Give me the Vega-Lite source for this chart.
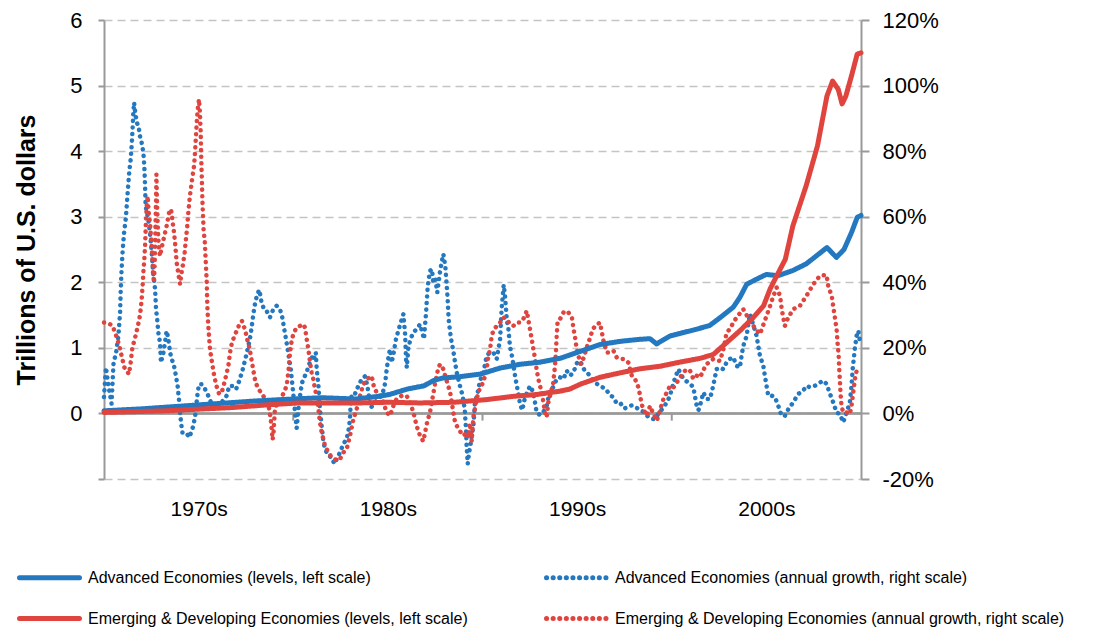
{
  "$schema": "https://vega.github.io/schema/vega-lite/v6.json",
  "width": 757,
  "height": 459,
  "autosize": {"type": "none"},
  "padding": {"left": 104, "top": 20, "right": 247, "bottom": 149},
  "background": "white",
  "config": {
    "view": {"stroke": null},
    "font": "Liberation Sans",
    "axis": {"labelColor": "#000000", "titleColor": "#000000", "labelFont": "Liberation Sans", "titleFont": "Liberation Sans"},
    "legend": {"labelFont": "Liberation Sans", "labelColor": "#000000"}
  },
  "datasets": {
    "levels": [
      {"t":1970,"s":"A1","v":0.04},{"t":1972,"s":"A1","v":0.07},{"t":1974,"s":"A1","v":0.11},{"t":1976,"s":"A1","v":0.15},{"t":1978,"s":"A1","v":0.19},{"t":1980,"s":"A1","v":0.22},{"t":1981.5,"s":"A1","v":0.24},{"t":1983.3,"s":"A1","v":0.22},{"t":1984.5,"s":"A1","v":0.26},{"t":1985.1,"s":"A1","v":0.29},{"t":1986,"s":"A1","v":0.37},{"t":1986.9,"s":"A1","v":0.42},{"t":1987.4,"s":"A1","v":0.5},{"t":1987.9,"s":"A1","v":0.54},{"t":1988.8,"s":"A1","v":0.56},{"t":1989.9,"s":"A1","v":0.6},{"t":1990.9,"s":"A1","v":0.69},{"t":1992,"s":"A1","v":0.75},{"t":1993,"s":"A1","v":0.78},{"t":1994.1,"s":"A1","v":0.84},{"t":1995.2,"s":"A1","v":0.95},{"t":1996.2,"s":"A1","v":1.05},{"t":1997.3,"s":"A1","v":1.1},{"t":1998.3,"s":"A1","v":1.13},{"t":1998.85,"s":"A1","v":1.14},{"t":1999.2,"s":"A1","v":1.06},{"t":1999.9,"s":"A1","v":1.18},{"t":2001,"s":"A1","v":1.26},{"t":2002,"s":"A1","v":1.34},{"t":2002.55,"s":"A1","v":1.46},{"t":2003.25,"s":"A1","v":1.62},{"t":2003.6,"s":"A1","v":1.77},{"t":2003.96,"s":"A1","v":1.97},{"t":2004.5,"s":"A1","v":2.05},{"t":2005,"s":"A1","v":2.12},{"t":2005.6,"s":"A1","v":2.1},{"t":2006.4,"s":"A1","v":2.18},{"t":2007.1,"s":"A1","v":2.28},{"t":2007.5,"s":"A1","v":2.37},{"t":2008.2,"s":"A1","v":2.53},{"t":2008.7,"s":"A1","v":2.38},{"t":2009.1,"s":"A1","v":2.5},{"t":2009.5,"s":"A1","v":2.76},{"t":2009.8,"s":"A1","v":2.99},{"t":2010,"s":"A1","v":3.02},
      {"t":1970,"s":"E1","v":0.015},{"t":1973.3,"s":"E1","v":0.04},{"t":1975,"s":"E1","v":0.065},{"t":1976.8,"s":"E1","v":0.09},{"t":1978.6,"s":"E1","v":0.13},{"t":1980.3,"s":"E1","v":0.16},{"t":1982,"s":"E1","v":0.16},{"t":1983.5,"s":"E1","v":0.16},{"t":1985,"s":"E1","v":0.17},{"t":1986.7,"s":"E1","v":0.16},{"t":1988.5,"s":"E1","v":0.17},{"t":1990.2,"s":"E1","v":0.21},{"t":1991.6,"s":"E1","v":0.26},{"t":1992.9,"s":"E1","v":0.29},{"t":1994.1,"s":"E1","v":0.34},{"t":1994.6,"s":"E1","v":0.37},{"t":1995.2,"s":"E1","v":0.45},{"t":1996.2,"s":"E1","v":0.55},{"t":1997.3,"s":"E1","v":0.62},{"t":1998.3,"s":"E1","v":0.68},{"t":1999.4,"s":"E1","v":0.72},{"t":2000.4,"s":"E1","v":0.78},{"t":2001.5,"s":"E1","v":0.84},{"t":2002.2,"s":"E1","v":0.9},{"t":2002.9,"s":"E1","v":1.08},{"t":2003.6,"s":"E1","v":1.26},{"t":2004.3,"s":"E1","v":1.46},{"t":2004.85,"s":"E1","v":1.64},{"t":2005.2,"s":"E1","v":1.9},{"t":2005.55,"s":"E1","v":2.1},{"t":2006,"s":"E1","v":2.35},{"t":2006.4,"s":"E1","v":2.86},{"t":2007.1,"s":"E1","v":3.47},{"t":2007.7,"s":"E1","v":4.08},{"t":2008.2,"s":"E1","v":4.84},{"t":2008.5,"s":"E1","v":5.07},{"t":2008.8,"s":"E1","v":4.94},{"t":2009,"s":"E1","v":4.72},{"t":2009.2,"s":"E1","v":4.84},{"t":2009.5,"s":"E1","v":5.15},{"t":2009.8,"s":"E1","v":5.48},{"t":2010,"s":"E1","v":5.5}
    ],
    "growth": [
      {"t":1970.0,"s":"A2","g":5},{"t":1970.1,"s":"A2","g":14},{"t":1970.25,"s":"A2","g":8},{"t":1970.4,"s":"A2","g":3},{"t":1970.5,"s":"A2","g":15},{"t":1970.65,"s":"A2","g":19},{"t":1970.76,"s":"A2","g":23.7},{"t":1970.85,"s":"A2","g":30.8},{"t":1970.88,"s":"A2","g":36.9},{"t":1970.93,"s":"A2","g":44},{"t":1970.99,"s":"A2","g":50},{"t":1971.06,"s":"A2","g":55},{"t":1971.16,"s":"A2","g":60},{"t":1971.25,"s":"A2","g":67.4},{"t":1971.34,"s":"A2","g":74},{"t":1971.41,"s":"A2","g":77.5},{"t":1971.46,"s":"A2","g":81.6},{"t":1971.5,"s":"A2","g":85.6},{"t":1971.55,"s":"A2","g":91.7},{"t":1971.59,"s":"A2","g":94.8},{"t":1971.64,"s":"A2","g":92.3},{"t":1971.73,"s":"A2","g":88.7},{"t":1971.82,"s":"A2","g":87.7},{"t":1971.9,"s":"A2","g":84.6},{"t":1971.99,"s":"A2","g":82.6},{"t":1972.08,"s":"A2","g":79.6},{"t":1972.13,"s":"A2","g":75.5},{"t":1972.17,"s":"A2","g":69.4},{"t":1972.2,"s":"A2","g":63.3},{"t":1972.34,"s":"A2","g":59.2},{"t":1972.43,"s":"A2","g":55.2},{"t":1972.52,"s":"A2","g":49.1},{"t":1972.61,"s":"A2","g":42},{"t":1972.7,"s":"A2","g":37.9},{"t":1972.75,"s":"A2","g":31.8},{"t":1972.82,"s":"A2","g":28.2},{"t":1972.87,"s":"A2","g":24.7},{"t":1972.96,"s":"A2","g":21.6},{"t":1973.01,"s":"A2","g":15.5},{"t":1973.14,"s":"A2","g":18.6},{"t":1973.22,"s":"A2","g":21.6},{"t":1973.31,"s":"A2","g":25.2},{"t":1973.4,"s":"A2","g":22.7},{"t":1973.49,"s":"A2","g":18.6},{"t":1973.58,"s":"A2","g":16.6},{"t":1973.7,"s":"A2","g":14.5},{"t":1973.8,"s":"A2","g":11.5},{"t":1973.89,"s":"A2","g":8.4},{"t":1973.96,"s":"A2","g":4.4},{"t":1974.02,"s":"A2","g":0.3},{"t":1974.07,"s":"A2","g":-2.7},{"t":1974.14,"s":"A2","g":-5.8},{"t":1974.33,"s":"A2","g":-5.8},{"t":1974.51,"s":"A2","g":-7.3},{"t":1974.69,"s":"A2","g":-4.3},{"t":1974.81,"s":"A2","g":-1.2},{"t":1974.93,"s":"A2","g":5.4},{"t":1975.02,"s":"A2","g":8.9},{"t":1975.16,"s":"A2","g":8.9},{"t":1975.34,"s":"A2","g":7.4},{"t":1975.51,"s":"A2","g":5.4},{"t":1975.69,"s":"A2","g":2.8},{"t":1975.87,"s":"A2","g":1.3},{"t":1976.04,"s":"A2","g":2.3},{"t":1976.22,"s":"A2","g":3.4},{"t":1976.48,"s":"A2","g":5.4},{"t":1976.62,"s":"A2","g":8.4},{"t":1976.8,"s":"A2","g":8.4},{"t":1976.98,"s":"A2","g":7.4},{"t":1977.15,"s":"A2","g":10},{"t":1977.31,"s":"A2","g":13},{"t":1977.47,"s":"A2","g":16.6},{"t":1977.61,"s":"A2","g":20.1},{"t":1977.71,"s":"A2","g":22.7},{"t":1977.8,"s":"A2","g":26.2},{"t":1977.89,"s":"A2","g":30.3},{"t":1977.99,"s":"A2","g":33.8},{"t":1978.1,"s":"A2","g":36.4},{"t":1978.21,"s":"A2","g":37.7},{"t":1978.31,"s":"A2","g":34.3},{"t":1978.45,"s":"A2","g":31.8},{"t":1978.59,"s":"A2","g":31.3},{"t":1978.77,"s":"A2","g":29.3},{"t":1978.95,"s":"A2","g":31.8},{"t":1979.12,"s":"A2","g":32.8},{"t":1979.3,"s":"A2","g":31.8},{"t":1979.42,"s":"A2","g":29.3},{"t":1979.51,"s":"A2","g":26.2},{"t":1979.6,"s":"A2","g":23.2},{"t":1979.69,"s":"A2","g":20.1},{"t":1979.77,"s":"A2","g":17.1},{"t":1979.86,"s":"A2","g":14},{"t":1979.95,"s":"A2","g":9},{"t":1980.02,"s":"A2","g":5},{"t":1980.1,"s":"A2","g":0},{"t":1980.18,"s":"A2","g":-4.5},{"t":1980.3,"s":"A2","g":3},{"t":1980.45,"s":"A2","g":9},{"t":1980.53,"s":"A2","g":10.5},{"t":1980.71,"s":"A2","g":12.5},{"t":1980.8,"s":"A2","g":14.5},{"t":1980.92,"s":"A2","g":16},{"t":1981.03,"s":"A2","g":17.6},{"t":1981.1,"s":"A2","g":16.6},{"t":1981.19,"s":"A2","g":18.6},{"t":1981.24,"s":"A2","g":13.5},{"t":1981.33,"s":"A2","g":8.4},{"t":1981.41,"s":"A2","g":1.3},{"t":1981.5,"s":"A2","g":-3.8},{"t":1981.59,"s":"A2","g":-8.3},{"t":1981.68,"s":"A2","g":-10.9},{"t":1981.86,"s":"A2","g":-12.9},{"t":1982.03,"s":"A2","g":-13.4},{"t":1982.17,"s":"A2","g":-15.4},{"t":1982.3,"s":"A2","g":-13.9},{"t":1982.47,"s":"A2","g":-11.9},{"t":1982.65,"s":"A2","g":-9.3},{"t":1982.82,"s":"A2","g":-7.8},{"t":1982.95,"s":"A2","g":-4.3},{"t":1983.0,"s":"A2","g":-1.2},{"t":1983.03,"s":"A2","g":2.3},{"t":1983.09,"s":"A2","g":5.9},{"t":1983.26,"s":"A2","g":5.9},{"t":1983.44,"s":"A2","g":8.4},{"t":1983.62,"s":"A2","g":10.5},{"t":1983.79,"s":"A2","g":11.3},{"t":1983.92,"s":"A2","g":8.4},{"t":1984.02,"s":"A2","g":4.4},{"t":1984.11,"s":"A2","g":1.8},{"t":1984.32,"s":"A2","g":3.4},{"t":1984.58,"s":"A2","g":4.9},{"t":1984.8,"s":"A2","g":7.4},{"t":1984.88,"s":"A2","g":10.5},{"t":1984.95,"s":"A2","g":14},{"t":1985.03,"s":"A2","g":17.1},{"t":1985.11,"s":"A2","g":19.6},{"t":1985.2,"s":"A2","g":15.5},{"t":1985.31,"s":"A2","g":18.6},{"t":1985.43,"s":"A2","g":22.7},{"t":1985.55,"s":"A2","g":25.2},{"t":1985.68,"s":"A2","g":27.7},{"t":1985.82,"s":"A2","g":30.3},{"t":1985.91,"s":"A2","g":24.2},{"t":1985.96,"s":"A2","g":16.6},{"t":1986.0,"s":"A2","g":14},{"t":1986.08,"s":"A2","g":20.1},{"t":1986.2,"s":"A2","g":22.7},{"t":1986.35,"s":"A2","g":24.7},{"t":1986.52,"s":"A2","g":25.7},{"t":1986.7,"s":"A2","g":27.2},{"t":1986.84,"s":"A2","g":24.2},{"t":1986.91,"s":"A2","g":22.7},{"t":1986.96,"s":"A2","g":26.7},{"t":1987.02,"s":"A2","g":30.8},{"t":1987.05,"s":"A2","g":33.8},{"t":1987.09,"s":"A2","g":37.4},{"t":1987.14,"s":"A2","g":40.4},{"t":1987.23,"s":"A2","g":43.5},{"t":1987.33,"s":"A2","g":44},{"t":1987.4,"s":"A2","g":39.9},{"t":1987.51,"s":"A2","g":40.9},{"t":1987.61,"s":"A2","g":36.9},{"t":1987.68,"s":"A2","g":39.9},{"t":1987.75,"s":"A2","g":43},{"t":1987.84,"s":"A2","g":46},{"t":1987.93,"s":"A2","g":48.6},{"t":1987.98,"s":"A2","g":47},{"t":1988.04,"s":"A2","g":44.5},{"t":1988.11,"s":"A2","g":38.9},{"t":1988.16,"s":"A2","g":34.8},{"t":1988.21,"s":"A2","g":28.8},{"t":1988.28,"s":"A2","g":25.2},{"t":1988.37,"s":"A2","g":21.6},{"t":1988.46,"s":"A2","g":19.1},{"t":1988.55,"s":"A2","g":15.5},{"t":1988.64,"s":"A2","g":12.5},{"t":1988.81,"s":"A2","g":8.4},{"t":1988.95,"s":"A2","g":5.4},{"t":1989.06,"s":"A2","g":1.3},{"t":1989.13,"s":"A2","g":-4.8},{"t":1989.16,"s":"A2","g":-9.9},{"t":1989.22,"s":"A2","g":-15.4},{"t":1989.29,"s":"A2","g":-11.9},{"t":1989.36,"s":"A2","g":-9.9},{"t":1989.43,"s":"A2","g":-6.8},{"t":1989.52,"s":"A2","g":-3.8},{"t":1989.6,"s":"A2","g":3.4},{"t":1989.73,"s":"A2","g":5.9},{"t":1989.87,"s":"A2","g":10},{"t":1990.05,"s":"A2","g":12.5},{"t":1990.22,"s":"A2","g":17.6},{"t":1990.4,"s":"A2","g":18.6},{"t":1990.57,"s":"A2","g":18.6},{"t":1990.75,"s":"A2","g":16.6},{"t":1990.93,"s":"A2","g":22.7},{"t":1991.01,"s":"A2","g":31.8},{"t":1991.12,"s":"A2","g":39.2},{"t":1991.19,"s":"A2","g":35.9},{"t":1991.28,"s":"A2","g":28.8},{"t":1991.37,"s":"A2","g":25.7},{"t":1991.45,"s":"A2","g":20.5},{"t":1991.54,"s":"A2","g":18},{"t":1991.63,"s":"A2","g":15},{"t":1991.72,"s":"A2","g":11.5},{"t":1991.81,"s":"A2","g":8.5},{"t":1991.9,"s":"A2","g":6},{"t":1991.98,"s":"A2","g":3},{"t":1992.1,"s":"A2","g":1},{"t":1992.25,"s":"A2","g":5},{"t":1992.51,"s":"A2","g":8.4},{"t":1992.69,"s":"A2","g":6.4},{"t":1992.86,"s":"A2","g":0.3},{"t":1993.04,"s":"A2","g":-0.5},{"t":1993.22,"s":"A2","g":0.5},{"t":1993.39,"s":"A2","g":2.3},{"t":1993.57,"s":"A2","g":7.4},{"t":1993.74,"s":"A2","g":8},{"t":1993.92,"s":"A2","g":10.5},{"t":1994.1,"s":"A2","g":11},{"t":1994.28,"s":"A2","g":10.5},{"t":1994.45,"s":"A2","g":13},{"t":1994.63,"s":"A2","g":11.5},{"t":1994.8,"s":"A2","g":12.5},{"t":1995.0,"s":"A2","g":15.5},{"t":1995.16,"s":"A2","g":16},{"t":1995.4,"s":"A2","g":13},{"t":1995.6,"s":"A2","g":12},{"t":1995.86,"s":"A2","g":10},{"t":1996.05,"s":"A2","g":9},{"t":1996.2,"s":"A2","g":8.4},{"t":1996.5,"s":"A2","g":7.5},{"t":1996.75,"s":"A2","g":5.5},{"t":1996.9,"s":"A2","g":5},{"t":1997.1,"s":"A2","g":3},{"t":1997.3,"s":"A2","g":3},{"t":1997.5,"s":"A2","g":1.5},{"t":1997.7,"s":"A2","g":2},{"t":1997.9,"s":"A2","g":2.5},{"t":1998.2,"s":"A2","g":1.5},{"t":1998.5,"s":"A2","g":0.5},{"t":1998.75,"s":"A2","g":-1},{"t":1998.95,"s":"A2","g":-1.7},{"t":1999.12,"s":"A2","g":-1.7},{"t":1999.3,"s":"A2","g":0},{"t":1999.56,"s":"A2","g":1.8},{"t":1999.75,"s":"A2","g":3.5},{"t":1999.91,"s":"A2","g":5.4},{"t":2000.09,"s":"A2","g":9.4},{"t":2000.35,"s":"A2","g":13.5},{"t":2000.62,"s":"A2","g":10.5},{"t":2000.97,"s":"A2","g":9},{"t":2001.14,"s":"A2","g":8},{"t":2001.32,"s":"A2","g":2.3},{"t":2001.41,"s":"A2","g":1},{"t":2001.5,"s":"A2","g":2.5},{"t":2001.67,"s":"A2","g":6.4},{"t":2001.84,"s":"A2","g":4.4},{"t":2002.02,"s":"A2","g":4.4},{"t":2002.19,"s":"A2","g":8.4},{"t":2002.37,"s":"A2","g":13.5},{"t":2002.55,"s":"A2","g":14},{"t":2002.72,"s":"A2","g":13.5},{"t":2002.9,"s":"A2","g":15.6},{"t":2003.07,"s":"A2","g":16.6},{"t":2003.25,"s":"A2","g":17.1},{"t":2003.43,"s":"A2","g":14.5},{"t":2003.6,"s":"A2","g":14},{"t":2003.69,"s":"A2","g":17.6},{"t":2003.78,"s":"A2","g":20.6},{"t":2003.96,"s":"A2","g":23.7},{"t":2004.04,"s":"A2","g":27},{"t":2004.13,"s":"A2","g":30.3},{"t":2004.31,"s":"A2","g":27},{"t":2004.48,"s":"A2","g":23.7},{"t":2004.57,"s":"A2","g":20.6},{"t":2004.66,"s":"A2","g":17.6},{"t":2004.84,"s":"A2","g":14.5},{"t":2004.92,"s":"A2","g":11.5},{"t":2005.01,"s":"A2","g":8.4},{"t":2005.1,"s":"A2","g":5.4},{"t":2005.28,"s":"A2","g":5.4},{"t":2005.45,"s":"A2","g":5},{"t":2005.63,"s":"A2","g":2.3},{"t":2005.8,"s":"A2","g":-0.7},{"t":2005.98,"s":"A2","g":-0.7},{"t":2006.16,"s":"A2","g":1.3},{"t":2006.42,"s":"A2","g":3.4},{"t":2006.68,"s":"A2","g":5.9},{"t":2006.95,"s":"A2","g":7},{"t":2007.12,"s":"A2","g":8.4},{"t":2007.3,"s":"A2","g":8},{"t":2007.56,"s":"A2","g":8.4},{"t":2007.83,"s":"A2","g":9.4},{"t":2008.0,"s":"A2","g":10},{"t":2008.18,"s":"A2","g":9},{"t":2008.36,"s":"A2","g":6},{"t":2008.53,"s":"A2","g":3.4},{"t":2008.71,"s":"A2","g":0.3},{"t":2008.89,"s":"A2","g":-0.2},{"t":2009.06,"s":"A2","g":-2.7},{"t":2009.24,"s":"A2","g":0.3},{"t":2009.41,"s":"A2","g":3.4},{"t":2009.5,"s":"A2","g":8.4},{"t":2009.56,"s":"A2","g":13.5},{"t":2009.68,"s":"A2","g":20.1},{"t":2009.77,"s":"A2","g":23.7},{"t":2009.86,"s":"A2","g":25.2},{"t":2009.94,"s":"A2","g":22},
      {"t":1970.0,"s":"E2","g":27.7},{"t":1970.15,"s":"E2","g":27.7},{"t":1970.32,"s":"E2","g":27.2},{"t":1970.46,"s":"E2","g":26.7},{"t":1970.58,"s":"E2","g":24.7},{"t":1970.71,"s":"E2","g":22.7},{"t":1970.85,"s":"E2","g":19.6},{"t":1970.97,"s":"E2","g":16.6},{"t":1971.08,"s":"E2","g":14},{"t":1971.2,"s":"E2","g":13},{"t":1971.32,"s":"E2","g":12},{"t":1971.41,"s":"E2","g":15.5},{"t":1971.5,"s":"E2","g":20.1},{"t":1971.6,"s":"E2","g":22.1},{"t":1971.73,"s":"E2","g":25.2},{"t":1971.87,"s":"E2","g":28.8},{"t":1971.94,"s":"E2","g":31.8},{"t":1971.99,"s":"E2","g":34.8},{"t":1972.04,"s":"E2","g":38.9},{"t":1972.08,"s":"E2","g":43},{"t":1972.13,"s":"E2","g":47},{"t":1972.17,"s":"E2","g":51.1},{"t":1972.22,"s":"E2","g":59.2},{"t":1972.26,"s":"E2","g":63.3},{"t":1972.31,"s":"E2","g":66.3},{"t":1972.36,"s":"E2","g":61.3},{"t":1972.43,"s":"E2","g":58.2},{"t":1972.48,"s":"E2","g":54.2},{"t":1972.54,"s":"E2","g":49.1},{"t":1972.59,"s":"E2","g":43},{"t":1972.64,"s":"E2","g":39.9},{"t":1972.68,"s":"E2","g":46},{"t":1972.71,"s":"E2","g":54.2},{"t":1972.75,"s":"E2","g":65.3},{"t":1972.77,"s":"E2","g":72.9},{"t":1972.8,"s":"E2","g":64.3},{"t":1972.84,"s":"E2","g":57.2},{"t":1972.89,"s":"E2","g":51.1},{"t":1972.96,"s":"E2","g":48},{"t":1973.07,"s":"E2","g":51.1},{"t":1973.19,"s":"E2","g":54.2},{"t":1973.31,"s":"E2","g":57.2},{"t":1973.44,"s":"E2","g":61.3},{"t":1973.54,"s":"E2","g":62.3},{"t":1973.63,"s":"E2","g":58.2},{"t":1973.7,"s":"E2","g":55.2},{"t":1973.77,"s":"E2","g":51.1},{"t":1973.84,"s":"E2","g":46},{"t":1973.93,"s":"E2","g":42.5},{"t":1974.02,"s":"E2","g":39.4},{"t":1974.1,"s":"E2","g":43},{"t":1974.19,"s":"E2","g":46},{"t":1974.26,"s":"E2","g":49.1},{"t":1974.33,"s":"E2","g":53.1},{"t":1974.4,"s":"E2","g":57.2},{"t":1974.47,"s":"E2","g":62.3},{"t":1974.54,"s":"E2","g":66.3},{"t":1974.61,"s":"E2","g":69.4},{"t":1974.68,"s":"E2","g":72.4},{"t":1974.76,"s":"E2","g":75.5},{"t":1974.81,"s":"E2","g":79.6},{"t":1974.86,"s":"E2","g":84.6},{"t":1974.91,"s":"E2","g":89.7},{"t":1974.97,"s":"E2","g":93.8},{"t":1975.02,"s":"E2","g":95.8},{"t":1975.07,"s":"E2","g":91.7},{"t":1975.11,"s":"E2","g":85.6},{"t":1975.14,"s":"E2","g":77.5},{"t":1975.18,"s":"E2","g":69.4},{"t":1975.21,"s":"E2","g":63.3},{"t":1975.27,"s":"E2","g":55.2},{"t":1975.32,"s":"E2","g":53.1},{"t":1975.37,"s":"E2","g":47},{"t":1975.43,"s":"E2","g":39.9},{"t":1975.46,"s":"E2","g":32.8},{"t":1975.51,"s":"E2","g":26.7},{"t":1975.6,"s":"E2","g":19.6},{"t":1975.71,"s":"E2","g":15.5},{"t":1975.79,"s":"E2","g":12.5},{"t":1975.88,"s":"E2","g":10},{"t":1975.99,"s":"E2","g":7.4},{"t":1976.09,"s":"E2","g":5.9},{"t":1976.22,"s":"E2","g":6.4},{"t":1976.34,"s":"E2","g":8.9},{"t":1976.45,"s":"E2","g":11.5},{"t":1976.57,"s":"E2","g":14.5},{"t":1976.66,"s":"E2","g":18.6},{"t":1976.76,"s":"E2","g":21.6},{"t":1976.9,"s":"E2","g":23.7},{"t":1977.05,"s":"E2","g":25.7},{"t":1977.19,"s":"E2","g":27.7},{"t":1977.29,"s":"E2","g":28.2},{"t":1977.38,"s":"E2","g":26.7},{"t":1977.47,"s":"E2","g":25.2},{"t":1977.56,"s":"E2","g":22.7},{"t":1977.64,"s":"E2","g":21.1},{"t":1977.73,"s":"E2","g":18.6},{"t":1977.82,"s":"E2","g":15.5},{"t":1977.91,"s":"E2","g":12.5},{"t":1978.01,"s":"E2","g":9.4},{"t":1978.17,"s":"E2","g":7.4},{"t":1978.35,"s":"E2","g":5.9},{"t":1978.52,"s":"E2","g":4.4},{"t":1978.7,"s":"E2","g":2.3},{"t":1978.81,"s":"E2","g":-1.7},{"t":1978.86,"s":"E2","g":-4.8},{"t":1978.91,"s":"E2","g":-8},{"t":1978.96,"s":"E2","g":-5.8},{"t":1979.03,"s":"E2","g":1.3},{"t":1979.16,"s":"E2","g":3.4},{"t":1979.33,"s":"E2","g":4.4},{"t":1979.51,"s":"E2","g":6.4},{"t":1979.65,"s":"E2","g":8.4},{"t":1979.74,"s":"E2","g":12.5},{"t":1979.83,"s":"E2","g":18.6},{"t":1979.93,"s":"E2","g":22.7},{"t":1980.04,"s":"E2","g":24.7},{"t":1980.18,"s":"E2","g":26.2},{"t":1980.36,"s":"E2","g":26.7},{"t":1980.53,"s":"E2","g":27.2},{"t":1980.62,"s":"E2","g":26.2},{"t":1980.71,"s":"E2","g":22.7},{"t":1980.8,"s":"E2","g":19.6},{"t":1980.89,"s":"E2","g":15.5},{"t":1980.97,"s":"E2","g":12.5},{"t":1981.06,"s":"E2","g":10.5},{"t":1981.15,"s":"E2","g":7.4},{"t":1981.24,"s":"E2","g":5.4},{"t":1981.33,"s":"E2","g":1.3},{"t":1981.41,"s":"E2","g":-2.7},{"t":1981.5,"s":"E2","g":-5.8},{"t":1981.59,"s":"E2","g":-7.8},{"t":1981.68,"s":"E2","g":-9.9},{"t":1981.86,"s":"E2","g":-11.9},{"t":1982.03,"s":"E2","g":-13.4},{"t":1982.3,"s":"E2","g":-14.4},{"t":1982.47,"s":"E2","g":-13.9},{"t":1982.65,"s":"E2","g":-11.9},{"t":1982.82,"s":"E2","g":-10.9},{"t":1983.0,"s":"E2","g":-6.8},{"t":1983.18,"s":"E2","g":-1.7},{"t":1983.35,"s":"E2","g":1.3},{"t":1983.53,"s":"E2","g":5.4},{"t":1983.7,"s":"E2","g":8.9},{"t":1983.88,"s":"E2","g":10},{"t":1984.06,"s":"E2","g":11.5},{"t":1984.18,"s":"E2","g":10.5},{"t":1984.27,"s":"E2","g":7.9},{"t":1984.41,"s":"E2","g":6.4},{"t":1984.58,"s":"E2","g":5.9},{"t":1984.76,"s":"E2","g":3.4},{"t":1984.94,"s":"E2","g":0.3},{"t":1985.11,"s":"E2","g":-0.7},{"t":1985.29,"s":"E2","g":2.3},{"t":1985.46,"s":"E2","g":4.4},{"t":1985.73,"s":"E2","g":5.4},{"t":1985.99,"s":"E2","g":5.4},{"t":1986.17,"s":"E2","g":3.4},{"t":1986.35,"s":"E2","g":0.3},{"t":1986.52,"s":"E2","g":-3.8},{"t":1986.7,"s":"E2","g":-6.8},{"t":1986.87,"s":"E2","g":-8.5},{"t":1986.96,"s":"E2","g":-6},{"t":1987.05,"s":"E2","g":-3.3},{"t":1987.23,"s":"E2","g":0.5},{"t":1987.4,"s":"E2","g":6},{"t":1987.49,"s":"E2","g":9},{"t":1987.58,"s":"E2","g":11.5},{"t":1987.67,"s":"E2","g":14},{"t":1987.76,"s":"E2","g":15},{"t":1987.93,"s":"E2","g":13.5},{"t":1988.11,"s":"E2","g":9.9},{"t":1988.29,"s":"E2","g":6.5},{"t":1988.46,"s":"E2","g":0.3},{"t":1988.55,"s":"E2","g":-2.7},{"t":1988.73,"s":"E2","g":-4.8},{"t":1988.99,"s":"E2","g":-6.8},{"t":1989.17,"s":"E2","g":-5.8},{"t":1989.25,"s":"E2","g":-7.3},{"t":1989.34,"s":"E2","g":-3},{"t":1989.43,"s":"E2","g":-8.5},{"t":1989.52,"s":"E2","g":-1},{"t":1989.69,"s":"E2","g":4.4},{"t":1989.87,"s":"E2","g":7.9},{"t":1990.05,"s":"E2","g":9.5},{"t":1990.13,"s":"E2","g":11.5},{"t":1990.22,"s":"E2","g":13.5},{"t":1990.31,"s":"E2","g":17.6},{"t":1990.4,"s":"E2","g":19.6},{"t":1990.49,"s":"E2","g":23.7},{"t":1990.57,"s":"E2","g":25.2},{"t":1990.75,"s":"E2","g":26.7},{"t":1990.93,"s":"E2","g":27.7},{"t":1991.1,"s":"E2","g":29.3},{"t":1991.28,"s":"E2","g":28.8},{"t":1991.45,"s":"E2","g":27.2},{"t":1991.63,"s":"E2","g":26.7},{"t":1991.81,"s":"E2","g":27.7},{"t":1991.98,"s":"E2","g":27.7},{"t":1992.16,"s":"E2","g":28.8},{"t":1992.34,"s":"E2","g":31.3},{"t":1992.51,"s":"E2","g":25.7},{"t":1992.6,"s":"E2","g":22.7},{"t":1992.69,"s":"E2","g":19.6},{"t":1992.78,"s":"E2","g":16.6},{"t":1992.86,"s":"E2","g":13.5},{"t":1992.95,"s":"E2","g":10.5},{"t":1993.04,"s":"E2","g":8.4},{"t":1993.13,"s":"E2","g":6.4},{"t":1993.22,"s":"E2","g":3.4},{"t":1993.3,"s":"E2","g":0.3},{"t":1993.39,"s":"E2","g":-1.2},{"t":1993.48,"s":"E2","g":3.4},{"t":1993.57,"s":"E2","g":5.4},{"t":1993.74,"s":"E2","g":9.4},{"t":1993.83,"s":"E2","g":14.5},{"t":1993.88,"s":"E2","g":18.6},{"t":1993.92,"s":"E2","g":23.7},{"t":1993.97,"s":"E2","g":28.2},{"t":1994.1,"s":"E2","g":28.8},{"t":1994.28,"s":"E2","g":30.8},{"t":1994.36,"s":"E2","g":31.3},{"t":1994.54,"s":"E2","g":30.8},{"t":1994.72,"s":"E2","g":29.3},{"t":1994.8,"s":"E2","g":26.2},{"t":1994.89,"s":"E2","g":23.2},{"t":1994.98,"s":"E2","g":19.6},{"t":1995.07,"s":"E2","g":17.6},{"t":1995.19,"s":"E2","g":15},{"t":1995.35,"s":"E2","g":17},{"t":1995.5,"s":"E2","g":20},{"t":1995.65,"s":"E2","g":22.5},{"t":1995.83,"s":"E2","g":25.7},{"t":1996.0,"s":"E2","g":27},{"t":1996.21,"s":"E2","g":27.7},{"t":1996.3,"s":"E2","g":25},{"t":1996.39,"s":"E2","g":22.2},{"t":1996.57,"s":"E2","g":18.6},{"t":1996.74,"s":"E2","g":18.6},{"t":1996.92,"s":"E2","g":19.1},{"t":1997.09,"s":"E2","g":17.1},{"t":1997.27,"s":"E2","g":16.6},{"t":1997.45,"s":"E2","g":16.6},{"t":1997.71,"s":"E2","g":15.5},{"t":1997.8,"s":"E2","g":13.5},{"t":1997.89,"s":"E2","g":11.5},{"t":1998.06,"s":"E2","g":10.5},{"t":1998.24,"s":"E2","g":7.9},{"t":1998.33,"s":"E2","g":5.4},{"t":1998.41,"s":"E2","g":2.8},{"t":1998.5,"s":"E2","g":1.3},{"t":1998.68,"s":"E2","g":-0.7},{"t":1998.77,"s":"E2","g":0.8},{"t":1998.85,"s":"E2","g":2.3},{"t":1999.03,"s":"E2","g":-0.2},{"t":1999.21,"s":"E2","g":-2.2},{"t":1999.3,"s":"E2","g":-0.7},{"t":1999.47,"s":"E2","g":2.8},{"t":1999.56,"s":"E2","g":4.4},{"t":1999.74,"s":"E2","g":6.4},{"t":1999.91,"s":"E2","g":8.4},{"t":2000.09,"s":"E2","g":7.9},{"t":2000.26,"s":"E2","g":9.4},{"t":2000.62,"s":"E2","g":12.5},{"t":2000.79,"s":"E2","g":13.5},{"t":2000.97,"s":"E2","g":13},{"t":2001.14,"s":"E2","g":10.5},{"t":2001.32,"s":"E2","g":11.5},{"t":2001.5,"s":"E2","g":11},{"t":2001.67,"s":"E2","g":13.2},{"t":2001.84,"s":"E2","g":15},{"t":2002.19,"s":"E2","g":16.6},{"t":2002.55,"s":"E2","g":16},{"t":2002.75,"s":"E2","g":20},{"t":2002.9,"s":"E2","g":24.7},{"t":2003.07,"s":"E2","g":25.7},{"t":2003.25,"s":"E2","g":27.7},{"t":2003.43,"s":"E2","g":29.3},{"t":2003.78,"s":"E2","g":31.8},{"t":2004.13,"s":"E2","g":28.2},{"t":2004.31,"s":"E2","g":26.7},{"t":2004.66,"s":"E2","g":24.2},{"t":2004.9,"s":"E2","g":28},{"t":2005.15,"s":"E2","g":32},{"t":2005.35,"s":"E2","g":35.5},{"t":2005.54,"s":"E2","g":38.4},{"t":2005.72,"s":"E2","g":35.9},{"t":2005.8,"s":"E2","g":32.3},{"t":2005.89,"s":"E2","g":29.3},{"t":2005.98,"s":"E2","g":26.7},{"t":2006.16,"s":"E2","g":29.3},{"t":2006.42,"s":"E2","g":31.8},{"t":2006.77,"s":"E2","g":32.8},{"t":2007.12,"s":"E2","g":35.9},{"t":2007.48,"s":"E2","g":39.4},{"t":2007.83,"s":"E2","g":42},{"t":2008.18,"s":"E2","g":42.2},{"t":2008.27,"s":"E2","g":38.8},{"t":2008.45,"s":"E2","g":35.9},{"t":2008.53,"s":"E2","g":32.8},{"t":2008.62,"s":"E2","g":29.3},{"t":2008.71,"s":"E2","g":25.7},{"t":2008.76,"s":"E2","g":21.6},{"t":2008.82,"s":"E2","g":17.6},{"t":2008.85,"s":"E2","g":13.5},{"t":2008.89,"s":"E2","g":9.4},{"t":2008.92,"s":"E2","g":5.9},{"t":2008.97,"s":"E2","g":2.3},{"t":2009.06,"s":"E2","g":0.3},{"t":2009.24,"s":"E2","g":0.3},{"t":2009.41,"s":"E2","g":-0.2},{"t":2009.5,"s":"E2","g":2.3},{"t":2009.59,"s":"E2","g":6.4},{"t":2009.68,"s":"E2","g":10.5},{"t":2009.77,"s":"E2","g":13},{"t":2009.94,"s":"E2","g":13.5}
    ],
    "decades": [{"t":1980},{"t":1990},{"t":2000}]
  },
  "layer": [
    {
      "data": {"name": "decades"},
      "layer": [
        {
          "mark": {"type": "rule", "color": "#999999", "strokeWidth": 2},
          "encoding": {
            "y": {"datum": 0, "type": "quantitative", "scale": {"domain": [-1, 6], "nice": false, "zero": false}, "axis": null}
          }
        },
        {
          "mark": {"type": "rule", "color": "#999999", "strokeWidth": 2},
          "encoding": {
            "x": {"field": "t", "type": "quantitative", "scale": {"domain": [1970, 2010], "nice": false, "zero": false},
              "axis": {"values": [1975, 1985, 1995, 2005], "labelExpr": "floor(datum.value/10)*10 + 's'", "ticks": false, "domain": false, "grid": false, "title": null, "labelFontSize": 21, "labelPadding": 19}},
            "y": {"datum": 0, "type": "quantitative", "scale": {"domain": [-1, 6], "nice": false, "zero": false}, "axis": null},
            "y2": {"datum": -0.11}
          }
        }
      ]
    },
    {
      "data": {"name": "growth"},
      "mark": {"type": "line", "strokeWidth": 4.5, "strokeCap": "round", "strokeJoin": "round"},
      "encoding": {
        "x": {"field": "t", "type": "quantitative", "scale": {"domain": [1970, 2010], "nice": false, "zero": false},
          "axis": {"values": [1975, 1985, 1995, 2005], "labelExpr": "floor(datum.value/10)*10 + 's'", "ticks": false, "domain": false, "grid": false, "title": null, "labelFontSize": 21, "labelPadding": 19}},
        "y": {"field": "g", "type": "quantitative", "scale": {"domain": [-20, 120], "nice": false, "zero": false},
          "axis": {"orient": "right", "values": [-20, 0, 20, 40, 60, 80, 100, 120], "labelExpr": "datum.value + '%'", "grid": false, "title": null, "domainColor": "#999999", "domainWidth": 2, "tickColor": "#999999", "tickWidth": 2, "tickSize": 8, "labelPadding": 13, "labelFontSize": 22}},
        "color": {"field": "s", "type": "nominal", "scale": {"domain": ["A1", "E1", "A2", "E2"], "range": ["#2378c0", "#e0443e", "#2378c0", "#e0443e"]},
          "legend": {"title": null, "orient": "none", "legendX": -87, "legendY": 545, "columns": 2, "columnPadding": 68, "rowPadding": 18, "symbolType": "M-1,0H5", "symbolSize": 400, "symbolStrokeWidth": 5, "labelFontSize": 16, "labelLimit": 700, "labelOffset": 46,
            "labelExpr": "datum.value == 'A1' ? 'Advanced Economies (levels, left scale)' : datum.value == 'A2' ? 'Advanced Economies (annual growth, right scale)' : datum.value == 'E1' ? 'Emerging & Developing Economies (levels, left scale)' : 'Emerging & Developing Economies (annual growth, right scale)'",
            "encode": {"symbols": {"update": {"strokeCap": {"value": "round"}}}}}},
        "strokeDash": {"field": "s", "type": "nominal", "scale": {"domain": ["A1", "E1", "A2", "E2"], "range": [[1, 0], [1, 0], [0.1, 6.5], [0.1, 6.5]]}}
      }
    },
    {
      "data": {"name": "levels"},
      "mark": {"type": "line", "strokeWidth": 5, "strokeCap": "round", "strokeJoin": "round"},
      "encoding": {
        "x": {"field": "t", "type": "quantitative", "scale": {"domain": [1970, 2010], "nice": false, "zero": false},
          "axis": {"values": [1975, 1985, 1995, 2005], "labelExpr": "floor(datum.value/10)*10 + 's'", "ticks": false, "domain": false, "grid": false, "title": null, "labelFontSize": 21, "labelPadding": 19}},
        "y": {"field": "v", "type": "quantitative", "scale": {"domain": [-1, 6], "nice": false, "zero": false},
          "axis": {"orient": "left", "values": [-1, 0, 1, 2, 3, 4, 5, 6], "labelExpr": "datum.value < 0 ? '' : datum.label", "grid": true, "gridDash": [8, 5], "gridColor": "#c4c4c4", "gridWidth": 1.5, "title": "Trillions of U.S. dollars", "titleFontSize": 25, "titleFontWeight": "bold", "titlePadding": 30, "domainColor": "#999999", "domainWidth": 2, "tickColor": "#999999", "tickWidth": 2, "tickSize": 6, "labelPadding": 16, "labelFontSize": 22}},
        "color": {"field": "s", "type": "nominal", "scale": {"domain": ["A1", "E1", "A2", "E2"], "range": ["#2378c0", "#e0443e", "#2378c0", "#e0443e"]}},
        "strokeDash": {"field": "s", "type": "nominal", "scale": {"domain": ["A1", "E1", "A2", "E2"], "range": [[1, 0], [1, 0], [0.1, 6.5], [0.1, 6.5]]}}
      }
    }
  ],
  "resolve": {"scale": {"y": "independent"}, "axis": {"y": "independent"}}
}
